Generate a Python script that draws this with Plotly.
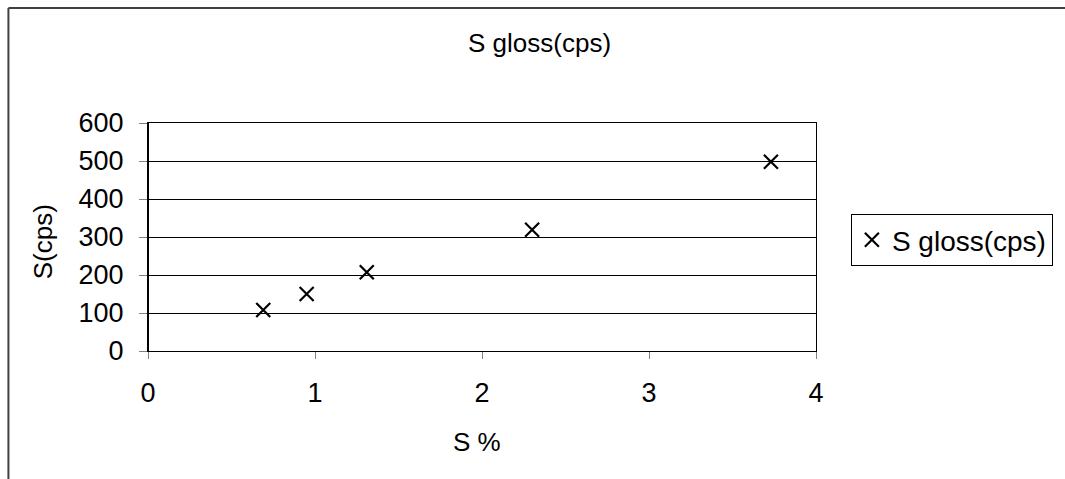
import plotly.graph_objects as go

s_percent = [0.69, 0.95, 1.31, 2.30, 3.73]
s_cps = [108, 150, 207, 319, 498]
x_ticks = [0, 1, 2, 3, 4]
y_ticks = [0, 100, 200, 300, 400, 500, 600]

FONT = "Liberation Sans, Arial, sans-serif"
W, H = 1065, 479
L, R, T, B = 148, 247, 123, 128
pw, ph = W - L - R, H - T - B

def px2x(p):
    return (p - L) / pw

def py2y(p):
    return (H - B - p) / ph

fig = go.Figure()
fig.add_trace(go.Scatter(
    x=s_percent, y=s_cps, mode="markers", name="S gloss(cps)",
    marker=dict(symbol="x-thin-open", size=14, color="black",
                line=dict(color="black", width=2.2)),
))

fig.update_layout(
    width=W, height=H,
    margin=dict(l=L, r=R, t=T, b=B),
    paper_bgcolor="white", plot_bgcolor="white",
    font=dict(family=FONT, size=26, color="black"),
    showlegend=True,
    legend=dict(x=px2x(853), y=py2y(214), xanchor="left", yanchor="top",
                bordercolor="black", borderwidth=1, bgcolor="white",
                font=dict(family=FONT, size=28), itemwidth=30,
                tracegroupgap=0),
    xaxis=dict(range=[0, 4], tickvals=x_ticks, ticks="outside", ticklen=7,
               tickcolor="#808080", showgrid=False, zeroline=False,
               showline=True, linecolor="black", linewidth=1, mirror=True,
               ticklabelstandoff=11, tickfont=dict(size=27)),
    yaxis=dict(range=[0, 600], tickvals=y_ticks, ticks="outside", ticklen=8,
               tickcolor="#808080", showgrid=True, gridcolor="black", gridwidth=1,
               zeroline=False, showline=True, linecolor="black", linewidth=1,
               mirror=True, ticklabelstandoff=10, tickfont=dict(size=27)),
    shapes=[
        dict(type="line", xref="paper", yref="paper",
             x0=px2x(8), x1=px2x(1100), y0=py2y(8), y1=py2y(8),
             line=dict(color="#404040", width=2), layer="below"),
        dict(type="line", xref="paper", yref="paper",
             x0=px2x(8), x1=px2x(8), y0=py2y(8), y1=py2y(540),
             line=dict(color="#404040", width=2), layer="below"),
        dict(type="line", xref="paper", yref="paper",
             x0=0, x1=0, y0=0, y1=1, line=dict(color="black", width=2)),
    ],
    annotations=[
        dict(text="S gloss(cps)", xref="paper", yref="paper", x=px2x(541), y=py2y(43),
             showarrow=False, xanchor="center", yanchor="middle", font=dict(size=26)),
        dict(text="S(cps)", xref="paper", yref="paper", x=px2x(43), y=py2y(242),
             showarrow=False, textangle=-90, xanchor="center", yanchor="middle",
             font=dict(size=26)),
        dict(text="S %", xref="paper", yref="paper", x=px2x(478), y=py2y(442),
             showarrow=False, xanchor="center", yanchor="middle", font=dict(size=26)),
    ],
)

fig.write_html("out.html")
